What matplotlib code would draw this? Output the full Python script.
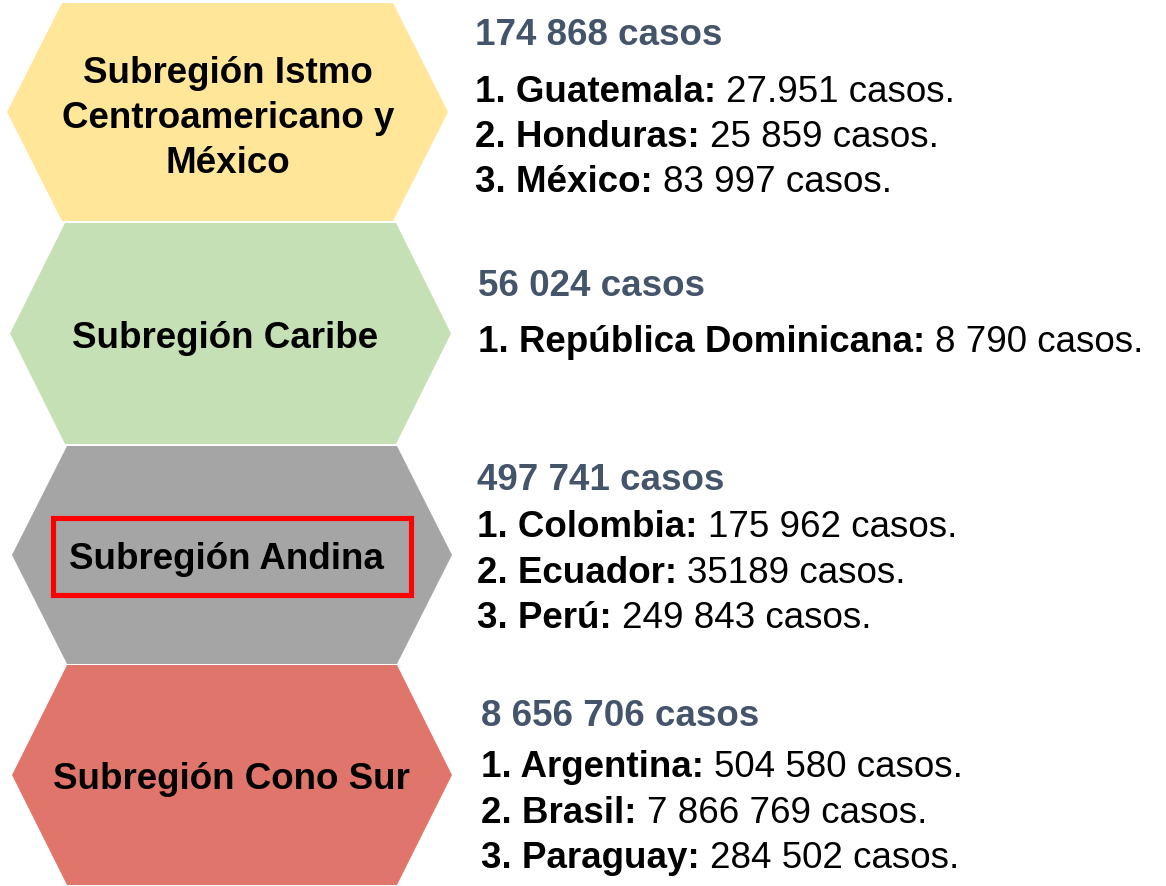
import matplotlib
matplotlib.use("Agg")
import matplotlib.pyplot as plt
from matplotlib.patches import Polygon, Rectangle

plt.rcParams['font.family'] = ['Liberation Sans', 'DejaVu Sans']

# data
regions = ["Subregión Istmo\nCentroamericano y\nMéxico", "Subregión Caribe",
           "Subregión Andina", "Subregión Cono Sur"]
totals = ["174 868", "56 024", "497 741", "8 656 706"]
countries = [["Guatemala", "Honduras", "México"],
             ["República Dominicana"],
             ["Colombia", "Ecuador", "Perú"],
             ["Argentina", "Brasil", "Paraguay"]]
cases = [["27.951", "25 859", "83 997"],
         ["8 790"],
         ["175 962", "35189", "249 843"],
         ["504 580", "7 866 769", "284 502"]]
region_colors = ["#FFE699", "#C5E0B4", "#A5A5A5", "#E0766B"]
highlight = "Subregión Andina"

# layout, in pixels from the top-left corner
hex_top = [4, 224, 447, 666]
hex_bottom = [222, 445, 665, 886]
hex_left = [7, 10, 12, 12]
hex_right = [448, 451, 452, 452]
hex_inset = 55
label_x = [228, 225, 226, 231]
label_base = [[83, 128, 173], [348], [569], [789]]
text_x = [475, 478, 477, 481]
head_base = [45, 296, 490, 726]
item_base = [[102, 147, 192], [352], [537, 583, 628], [777, 823, 868]]
fs = 26.5

fig = plt.figure(figsize=(11.66, 8.87), dpi=100)
ax = fig.add_axes([0, 0, 1, 1])
ax.set_xlim(0, 1166)
ax.set_ylim(887, 0)
ax.axis("off")

for i, name in enumerate(regions):
    t, b, l, r = hex_top[i], hex_bottom[i], hex_left[i], hex_right[i]
    cy = (t + b) / 2
    pts = [(l + hex_inset, t), (r - hex_inset, t), (r, cy),
           (r - hex_inset, b), (l + hex_inset, b), (l, cy)]
    ax.add_patch(Polygon(pts, closed=True, facecolor=region_colors[i],
                         edgecolor="none"))
    for line, yb in zip(name.split("\n"), label_base[i]):
        ax.text(label_x[i], yb, line, ha="center", va="baseline",
                fontsize=fs, fontweight="bold", color="black")
    if name == highlight:
        ax.add_patch(Rectangle((52.5, 518.5), 358, 77, facecolor="none",
                               edgecolor="#FF0000", linewidth=3.7))

renderer = fig.canvas.get_renderer()
inv = ax.transData.inverted()
gap = 0.278 * fs * 100 / 72

for i in range(len(regions)):
    ax.text(text_x[i], head_base[i], totals[i] + " casos", ha="left",
            va="baseline", fontsize=fs, fontweight="bold", color="#44546A")
    for k, (c, n) in enumerate(zip(countries[i], cases[i])):
        yb = item_base[i][k]
        t1 = ax.text(text_x[i], yb, f"{k + 1}. {c}:", ha="left",
                     va="baseline", fontsize=fs, fontweight="bold",
                     color="black")
        bb = t1.get_window_extent(renderer)
        x2 = inv.transform((bb.x1 + gap, bb.y0))[0]
        ax.text(x2, yb, f"{n} casos.", ha="left", va="baseline",
                fontsize=fs, color="black")

fig.savefig("out.png", dpi=100, facecolor="white")
